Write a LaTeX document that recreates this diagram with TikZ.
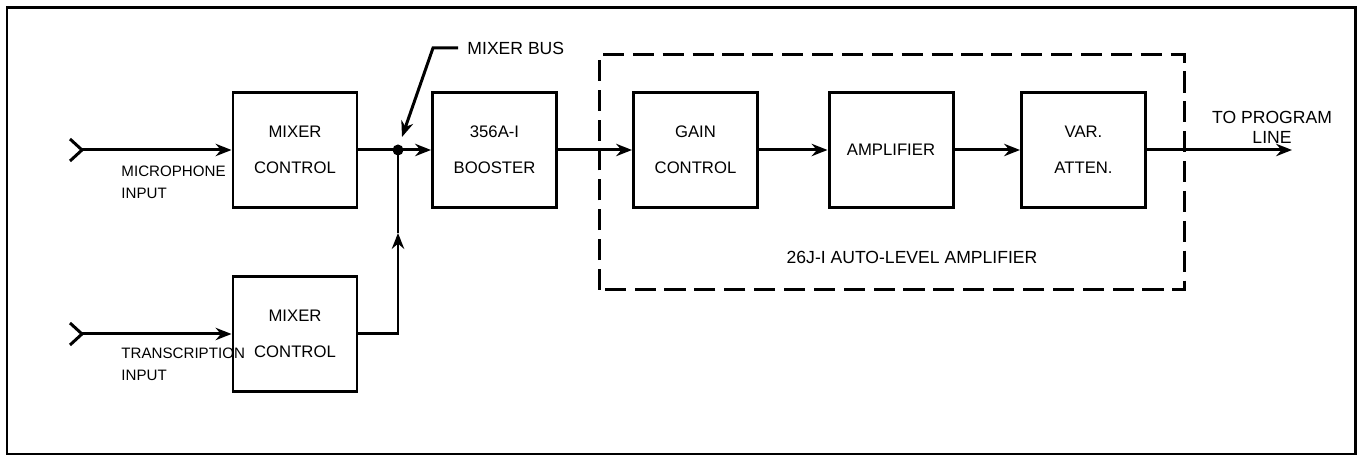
\documentclass[tikz,border=0pt]{standalone}
\usepackage{fontspec}
\setmainfont{Liberation Sans}
\usepackage{tkz-euclide}
\usetikzlibrary{arrows.meta}
\tikzset{>={Stealth[length=9pt,width=7pt]}}
\tikzset{blok/.style={draw,minimum width=2.48cm,minimum height=2.3cm,align=center,font=\fontsize{9.5}{20.5}\selectfont},
  lbl/.style={inner sep=0pt,align=left,anchor=north west,font=\fontsize{8.6}{13}\selectfont}}

\begin{document}
\begin{tikzpicture}[line width=1.7pt,font=\fontsize{10}{13}\selectfont]
\useasboundingbox (0,0) rectangle (27.22,9.16);
\tkzDefPoints{0.14/0.08/O, 27.1/9/Z, 11.98/3.36/G, 23.68/8.06/H}
\tkzDefPoints{5.9/6.16/A, 5.9/2.48/B, 9.89/6.16/C, 13.91/6.16/D, 17.82/6.16/E, 21.67/6.16/F}
\tkzDefPoints{1.64/6.16/P, 1.64/2.48/Q, 7.96/6.16/S, 7.96/4.5/V, 25.84/6.16/T}
\tkzDefPoints{8.04/6.42/W, 8.66/8.2/U, 9.16/8.2/R}
\draw (O) rectangle (Z);
\draw[dash pattern=on 12pt off 5pt] (G) rectangle (H);
\node[blok] (mixA) at (A) {MIXER\\CONTROL};
\node[blok] (mixB) at (B) {MIXER\\CONTROL};
\node[blok] (boost) at (C) {356A-I\\BOOSTER};
\node[blok] (gain) at (D) {GAIN\\CONTROL};
\node[blok] (amp) at (E) {AMPLIFIER};
\node[blok] (atten) at (F) {VAR.\\ATTEN.};
\draw (P) ++(-0.24,0.22) -- (P) -- ++(-0.24,-0.22);
\draw (Q) ++(-0.24,0.22) -- (Q) -- ++(-0.24,-0.22);
\draw[->] (P) -- (mixA);
\draw[->] (Q) -- (mixB);
\draw (mixA) -- (S);
\draw[->] (S) -- (boost);
\draw[->] (mixB) -| (V);
\draw (V) -- (S);
\fill (S) circle (0.11);
\draw[->] (boost) -- (gain);
\draw[->] (gain) -- (amp);
\draw[->] (amp) -- (atten);
\draw[->] (atten) -- (T);
\node[anchor=west,inner sep=0.16cm] (bus) at (R) {MIXER BUS};
\draw[->] (R) -- (U) -- (W);
\node[lbl] (mic) at (2.4,5.88) {MICROPHONE\\INPUT};
\node[lbl] (trans) at (2.4,2.24) {TRANSCRIPTION\\INPUT};
\node[align=center,font=\fontsize{10}{11.5}\selectfont] (prog) at (25.44,6.62) {TO PROGRAM\\LINE};
\node (auto) at (18.24,4.02) {26J-I AUTO-LEVEL AMPLIFIER};
\end{tikzpicture}
\end{document}
